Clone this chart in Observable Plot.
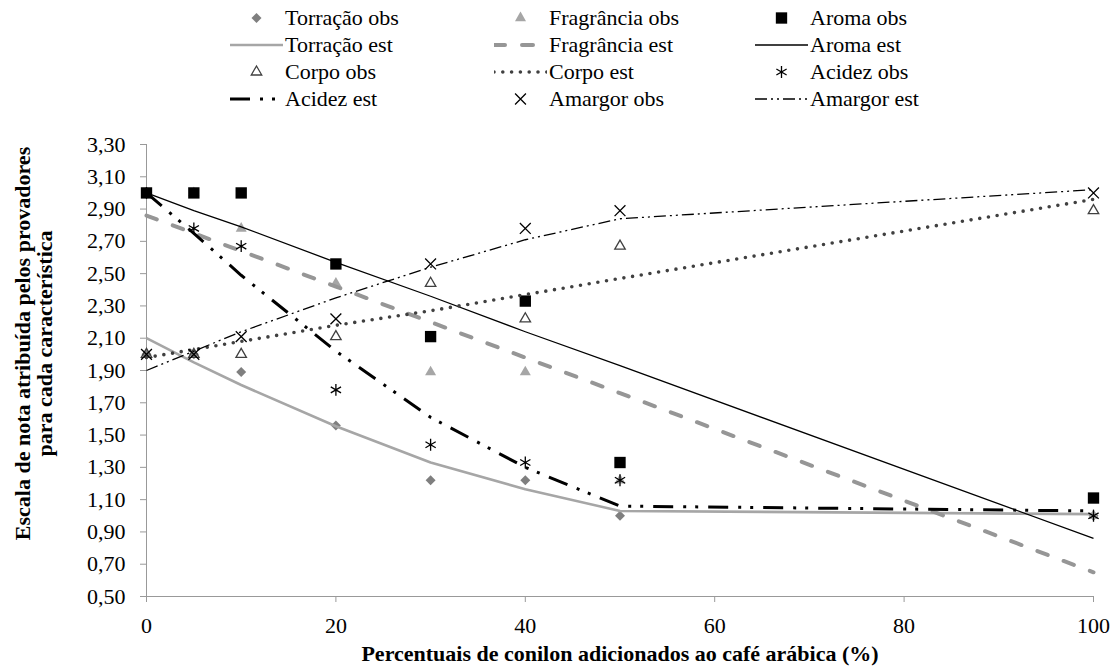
<!DOCTYPE html>
<html><head><meta charset="utf-8">
<script src="https://cdn.jsdelivr.net/npm/d3@7"></script>
<script src="https://cdn.jsdelivr.net/npm/@observablehq/plot@0.6"></script>
<style>
body{margin:0;background:#fff;font-family:"Liberation Serif","Times New Roman",serif;}
#legend{position:relative;width:1112px;height:124px;}
.item{position:absolute;height:28px;display:flex;align-items:center;font-size:22px;white-space:nowrap;color:#000;font-family:"Liberation Serif","Times New Roman",serif;}
.item svg{margin-right:2px;}
#chart svg{display:block;}
</style></head><body>
<div id="legend"></div>
<div id="chart"></div>
<script>
// ---- data ----
const pct = [0, 5, 10, 20, 30, 40, 50, 100];
const torracaoObs   = [2.00, 2.00, 1.89, 1.56, 1.22, 1.22, 1.00, 1.00];
const torracaoEst   = [2.10, 1.95, 1.81, 1.555, 1.33, 1.165, 1.03, 1.01];
const fragranciaObs = [3.00, 3.00, 2.78, 2.44, 1.89, 1.89, 1.22, 1.00];
const fragranciaEst = [2.86, 2.75, 2.64, 2.42, 2.20, 1.98, 1.76, 0.65];
const aromaObs      = [3.00, 3.00, 3.00, 2.56, 2.11, 2.33, 1.33, 1.11];
const aromaEst      = [3.00, 2.89, 2.79, 2.57, 2.36, 2.14, 1.93, 0.86];
const corpoObs      = [2.00, 2.00, 2.00, 2.11, 2.44, 2.22, 2.67, 2.89];
const corpoEst      = [1.98, 2.03, 2.08, 2.18, 2.27, 2.37, 2.47, 2.96];
const acidezObs     = [3.00, 2.78, 2.67, 1.78, 1.44, 1.33, 1.22, 1.00];
const acidezEst     = [3.00, 2.75, 2.49, 2.02, 1.61, 1.30, 1.06, 1.03];
const amargorObs    = [2.00, 2.00, 2.11, 2.22, 2.56, 2.78, 2.89, 3.00];
const amargorEst    = [1.90, 2.02, 2.14, 2.35, 2.54, 2.71, 2.84, 3.02];
const yTicks = [0.5, 0.7, 0.9, 1.1, 1.3, 1.5, 1.7, 1.9, 2.1, 2.3, 2.5, 2.7, 2.9, 3.1, 3.3];
const xTicks = [0, 20, 40, 60, 80, 100];
const yTitle = "Escala de nota atribuída pelos provadores\npara cada característica";
const xTitle = "Percentuais de conilon adicionados ao café arábica (%)";

const rows = arr => pct.map((x, i) => ({x, y: arr[i]}));

// ---- styles ----
const S = {
  torracaoObs:   {type:"dot", symbol:"diamond2", d3s:d3.symbolDiamond2, r:4.5, fill:"#7f7f7f"},
  fragranciaObs: {type:"dot", symbol:"triangle", d3s:d3.symbolTriangle, r:4.1, fill:"#a6a6a6"},
  aromaObs:      {type:"dot", symbol:"square", d3s:d3.symbolSquare, r:6.4, fill:"#000"},
  corpoObs:      {type:"dot", symbol:"triangle2", d3s:d3.symbolTriangle2, r:5.0, stroke:"#404040", sw:1.3},
  acidezObs:     {type:"dot", symbol:"asterisk", d3s:d3.symbolAsterisk, r:5.6, stroke:"#000", sw:1.3},
  amargorObs:    {type:"dot", symbol:"times", d3s:d3.symbolTimes, r:5.0, stroke:"#000", sw:1.3},
  torracaoEst:   {type:"line", stroke:"#a6a6a6", sw:2.6},
  fragranciaEst: {type:"line", stroke:"#969696", sw:4, dash:"11,17", cap:"round"},
  aromaEst:      {type:"line", stroke:"#000", sw:1.3},
  corpoEst:      {type:"line", stroke:"#404040", sw:3.6, dash:"0,8.8", cap:"round"},
  acidezEst:     {type:"line", stroke:"#000", sw:3, dash:"20,10,3,9,3,10"},
  amargorEst:    {type:"line", stroke:"#000", sw:1.3, dash:"12,4,2,4,2,4"}
};

function lineMark(arr, s) {
  return Plot.line(rows(arr), {x:"x", y:"y", stroke:s.stroke, strokeWidth:s.sw,
    strokeDasharray:s.dash, strokeLinecap:s.cap || "butt", strokeLinejoin:"round"});
}
function dotMark(arr, s) {
  const o = {x:"x", y:"y", symbol:s.symbol, r:s.r};
  if (s.fill) { o.fill = s.fill; o.stroke = "none"; }
  else { o.fill = "none"; o.stroke = s.stroke; o.strokeWidth = s.sw; }
  return Plot.dot(rows(arr), o);
}

const chart = Plot.plot({
  width: 1112, height: 545,
  marginTop: 20, marginBottom: 73, marginLeft: 146, marginRight: 19,
  x: {domain: [0, 100]},
  y: {domain: [0.5, 3.3]},
  style: {fontFamily: "'Liberation Serif','Times New Roman',serif", fontSize: "22px", color: "#000", background: "#fff", overflow: "visible"},
  marks: [
    Plot.ruleY([0.5], {stroke: "#999"}),
    Plot.ruleX([0], {stroke: "#999"}),
    Plot.axisY(yTicks, {tickFormat: d => d.toFixed(2).replace(".", ","), tickSize: 6, tickPadding: 15, stroke: "#999", fill: "#000", fontSize: 22, label: null}),
    Plot.axisX(xTicks, {tickSize: 6, tickPadding: 15, stroke: "#999", fill: "#000", fontSize: 22, label: null}),
    dotMark(torracaoObs, S.torracaoObs),
    lineMark(torracaoEst, S.torracaoEst),
    dotMark(fragranciaObs, S.fragranciaObs),
    lineMark(fragranciaEst, S.fragranciaEst),
    dotMark(aromaObs, S.aromaObs),
    lineMark(aromaEst, S.aromaEst),
    dotMark(corpoObs, S.corpoObs),
    lineMark(corpoEst, S.corpoEst),
    dotMark(acidezObs, S.acidezObs),
    lineMark(acidezEst, S.acidezEst),
    dotMark(amargorObs, S.amargorObs),
    lineMark(amargorEst, S.amargorEst),
    Plot.text([yTitle], {frameAnchor: "left", rotate: -90, dx: -113, dy: -27, fontWeight: "bold", fontSize: 22, lineHeight: 1.0, textAnchor: "middle"}),
    Plot.text([xTitle], {frameAnchor: "bottom", dy: 64, fontWeight: "bold", fontSize: 22, textAnchor: "middle"})
  ]
});
document.getElementById("chart").append(chart);

// ---- legend (HTML, above the SVG) ----
const legendRows = [
  [["Torração obs", S.torracaoObs], ["Fragrância obs", S.fragranciaObs], ["Aroma obs", S.aromaObs]],
  [["Torração est", S.torracaoEst], ["Fragrância est", S.fragranciaEst], ["Aroma est", S.aromaEst]],
  [["Corpo obs", S.corpoObs], ["Corpo est", S.corpoEst], ["Acidez obs", S.acidezObs]],
  [["Acidez est", S.acidezEst], ["Amargor obs", S.amargorObs], ["Amargor est", S.amargorEst]]
];
const colTextX = [285, 549, 810];
const rowY = [18, 45, 72, 99];
const keyW = 55;
const legend = d3.select("#legend");
legendRows.forEach((row, ri) => row.forEach(([label, s], ci) => {
  const item = legend.append("div").attr("class", "item")
    .style("left", (colTextX[ci] - keyW) + "px").style("top", (rowY[ri] - 14) + "px");
  const svg = item.append("svg").attr("width", keyW - 2).attr("height", 28);
  if (s.type === "line") {
    svg.append("line").attr("x1", 0).attr("x2", keyW - 2).attr("y1", 14).attr("y2", 14)
      .attr("stroke", s.stroke).attr("stroke-width", s.sw)
      .attr("stroke-dasharray", s.dash || null).attr("stroke-linecap", s.cap || "butt");
  } else {
    svg.append("path").attr("transform", `translate(${(keyW - 2) / 2},14)`)
      .attr("d", d3.symbol(s.d3s, s.r * s.r * Math.PI)())
      .attr("fill", s.fill || "none").attr("stroke", s.fill ? "none" : s.stroke)
      .attr("stroke-width", s.sw || null);
  }
  item.append("span").text(label);
}));
</script>
</body></html>
